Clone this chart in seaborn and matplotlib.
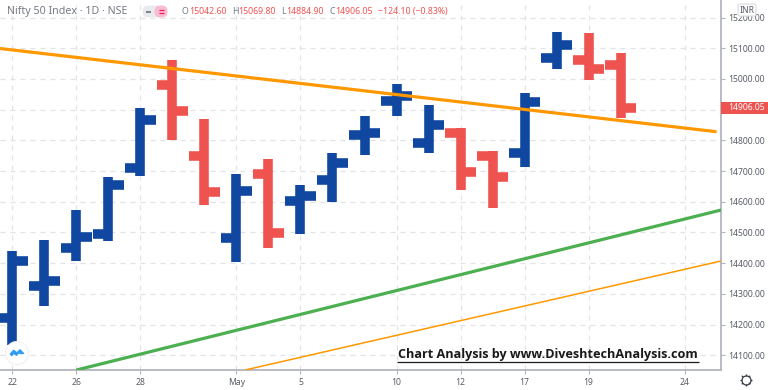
import numpy as np
import pandas as pd
import seaborn as sns
import matplotlib
matplotlib.use("Agg")
import matplotlib.pyplot as plt
from matplotlib.patches import Rectangle, FancyBboxPatch, Circle

# ---- data ----
sessions = list(range(20))
open_px  = [14222,14327,14450,14495,14711,14979,14749,14482,14689,14604,14671,14818,14928,14792,14824,14750,14759,15069,15062,15046]
high_px  = [14440,14476,14573,14682,14906,15060,14870,14690,14739,14655,14759,14879,14984,14915,14840,14765,14954,15153,15151,15086]
low_px   = [14134,14261,14408,14472,14684,14802,14590,14404,14449,14495,14600,14752,14880,14760,14638,14580,14714,15033,14997,14874]
close_px = [14407,14342,14485,14655,14866,14896,14632,14635,14498,14619,14726,14824,14945,14851,14697,14681,14925,15111,15033,14906.05]

tick_pos = [0, 2, 4, 7, 9, 12, 14, 16, 18, 21]
tick_lab = ["22", "26", "28", "May", "5", "10", "12", "17", "19", "24"]
price_ticks = [14100,14200,14300,14400,14500,14600,14700,14800,14900,15000,15100,15200]

trend_thick_x = [-0.39, 22.0];  trend_thick_y = [15099, 14828]
trend_green_x = [2.0, 22.14];   trend_green_y = [14052, 14573]
trend_thin_x  = [7.27, 22.14];  trend_thin_y  = [14052, 14407]

BLUE, RED, ORANGE, GREEN = "#0F47A1", "#EF5350", "#FF9800", "#4CAF50"
GRID, AXIS, TXT = "#E2E3E8", "#B2B5BE", "#5A5D68"

sns.set_theme(style="white")
plt.rcParams["font.family"] = ["Noto Sans", "DejaVu Sans"]
plt.rcParams["lines.solid_capstyle"] = "butt"

fig = plt.figure(figsize=(7.68, 3.90), dpi=100, facecolor="white")
ax = fig.add_axes([0, 20/390, 721/768, 370/390])

# ---- OHLC bars as long-form segments ----
TICK = 0.47
rows = []
for s, o, h, l, c in zip(sessions, open_px, high_px, low_px, close_px):
    d = "up" if c >= o else "down"
    for part, xs, ys in (("stem", (s, s), (l, h)),
                         ("open", (s - TICK, s), (o, o)),
                         ("close", (s, s + TICK), (c, c))):
        for x, y in zip(xs, ys):
            rows.append(dict(x=x, y=y, seg=f"{s}-{part}", dir=d))
bars = pd.DataFrame(rows)
sns.lineplot(data=bars, x="x", y="y", hue="dir", units="seg", estimator=None, sort=False,
             palette={"up": BLUE, "down": RED}, linewidth=6.9, legend=False, ax=ax, zorder=3)

for xs, ys, col, lw in ((trend_thick_x, trend_thick_y, ORANGE, 2.3),
                        (trend_green_x, trend_green_y, GREEN, 2.3),
                        (trend_thin_x, trend_thin_y, ORANGE, 1.1)):
    sns.lineplot(x=xs, y=ys, color=col, linewidth=lw, ax=ax, zorder=4, sort=False)

ax.set_xlim(-0.39, 22.14)
ax.set_ylim(14052, 15257)
ax.set_xlabel(""); ax.set_ylabel("")
ax.set_xticks(tick_pos); ax.set_xticklabels(tick_lab)
ax.yaxis.tick_right()
ax.set_yticks(price_ticks)
ax.set_yticklabels(["" if p == 14900 else f"{p:.2f}" for p in price_ticks])
ax.grid(True, color=GRID, linestyle=(0, (4, 4)), linewidth=0.9)
ax.set_axisbelow(True)
ax.tick_params(axis="both", length=3, width=0.8, color=AXIS, labelcolor=TXT, labelsize=6.2, pad=2.5,
               bottom=True, right=True, left=False)
for side in ("top", "left"):
    ax.spines[side].set_visible(False)
for side in ("right", "bottom"):
    ax.spines[side].set_color(AXIS); ax.spines[side].set_linewidth(1.3)

# ---- last price tag ----
yt = ax.get_yaxis_transform()
last = close_px[-1]
ax.add_patch(Rectangle((1.0, last - 20), 47/721, 40, transform=yt, color=RED, clip_on=False, zorder=6, lw=0))
ax.text(1 + 7/721, last, "14906.05", transform=yt, color="white", fontsize=6.2, va="center", ha="left",
        clip_on=False, zorder=7)

# ---- overlay in pixel coordinates for the chart chrome ----
ov = fig.add_axes([0, 0, 1, 1], facecolor="none", zorder=10)
ov.set_xlim(0, 768); ov.set_ylim(390, 0); ov.axis("off")

ov.text(7, 11.5, "Nifty 50 Index · 1D · NSE", fontsize=7.7, color="#787B86", va="center", ha="left")
ov.add_patch(FancyBboxPatch((144, 7), 22, 9, boxstyle="round,pad=0,rounding_size=4", fc="#E9EAEE", ec="#E9EAEE", lw=2))
ov.add_patch(FancyBboxPatch((156, 7), 10, 9, boxstyle="round,pad=0,rounding_size=4", fc="#F8BBD0", ec="#F8BBD0", lw=2))
ov.plot([146, 151], [11.5, 11.5], color="#6A6D78", lw=1.2)
ov.plot([158.5, 164], [10.3, 10.3], color="#E91E63", lw=0.9)
ov.plot([158.5, 164], [12.8, 12.8], color="#E91E63", lw=0.9)
hdr = [(181.7, "O", "#787B86"), (189.5, "15042.60", RED), (231.7, "H", "#787B86"), (238, "15069.80", RED),
       (281, "L", "#787B86"), (286.7, "14884.90", RED), (329, "C", "#787B86"), (335.7, "14906.05", RED),
       (378, "−124.10 (−0.83%)", RED)]
for x, s, c in hdr:
    ov.text(x, 11.8, s, fontsize=6.3, color=c, va="center", ha="left")

# INR box
ov.add_patch(FancyBboxPatch((738, 4), 18, 12, boxstyle="round,pad=0,rounding_size=2", fc="white", ec="#DADBE0", lw=0.8))
ov.text(747, 10.2, "INR", fontsize=6.2, color=TXT, va="center", ha="center")

# logo
ov.add_patch(Circle((17, 353), 11.5, fc="white", ec="#EEF0F4", lw=0.8))
ov.fill([10, 13.5, 17, 20, 24, 21, 19, 16.5, 13.5, 12], [354, 350, 352.5, 349.5, 353.5, 354, 353, 355.5, 353.5, 356],
        color="#2E9BF0", lw=0.6)

# gear
ov.plot([746], [380], marker="o", ms=6.5, mfc="white", mec="#3A3D48", mew=0.9)
for a in np.deg2rad(np.arange(0, 360, 45)):
    ov.plot([746 + 4*np.cos(a), 746 + 6*np.cos(a)], [380 + 4*np.sin(a), 380 + 6*np.sin(a)], color="#3A3D48", lw=0.9)

# watermark
ov.text(397.5, 354.5, "Chart Analysis by www.DiveshtechAnalysis.com", fontsize=9.1, fontweight="bold",
        family="Open Sans", color="#1A1A1A", va="center", ha="left")
ov.plot([397, 699], [361.5, 361.5], color="#1A1A1A", lw=0.9)

fig.savefig("out.png", dpi=100)
